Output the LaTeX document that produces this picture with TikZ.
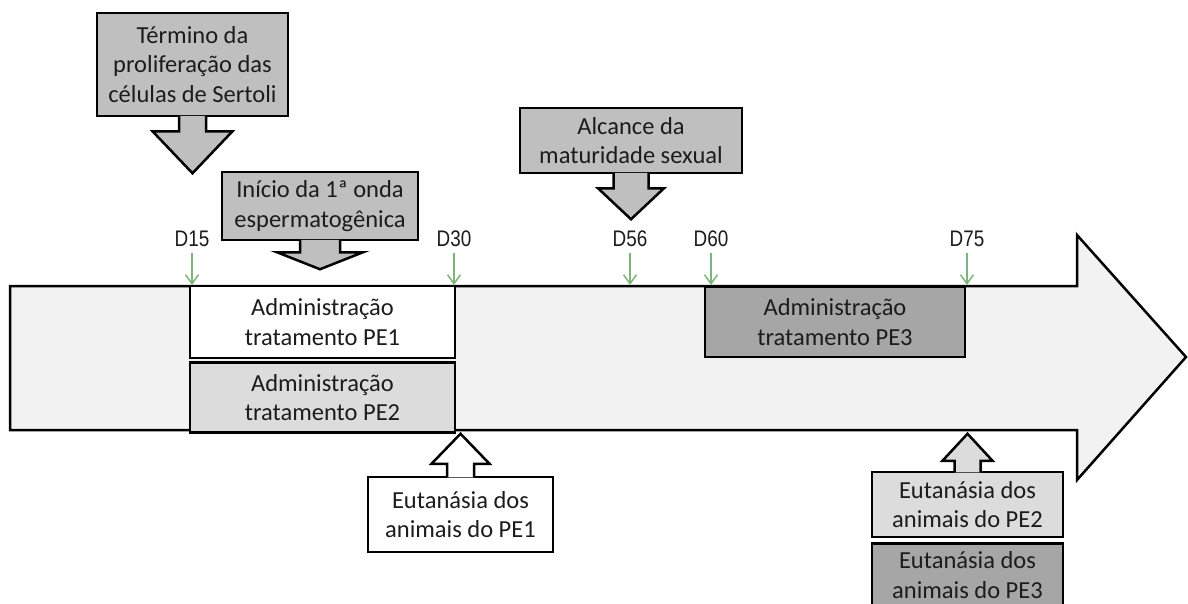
\documentclass[tikz,border=0pt]{standalone}
\usepackage{fontspec}
\setmainfont{Carlito}
\newfontfamily\tickfont[FakeStretch=0.84]{Liberation Sans}
\usetikzlibrary{positioning, arrows.meta}
\definecolor{barfill}{HTML}{F2F2F2}
\definecolor{calloutgray}{HTML}{BFBFBF}
\definecolor{lightbox}{HTML}{DCDCDC}
\definecolor{darkbox}{HTML}{A6A6A6}
\definecolor{tickgreen}{HTML}{7DB47D}
\definecolor{ink}{HTML}{1C1C1C}
\tikzset{
    x=1pt, y=-1pt, % pixel-like units, y grows downwards
    box/.style={draw, line width=2.5pt, align=center, inner sep=0pt, text=ink,
        font=\fontsize{24.5}{29.5}\selectfont}, % every text box
    callout/.style={box, fill=calloutgray},
    callarrow/.style={fill=calloutgray, draw, line width=2.5pt, line join=miter},
    tick label/.style={inner sep=2pt, text=ink, font=\tickfont\fontsize{22.5}{26}\selectfont},
    tick/.style={draw=tickgreen, line width=1.5pt, shorten <=4pt,
        -{Straight Barb[length=9pt, width=13pt]}},
}
\begin{document}
\begin{tikzpicture}
    \useasboundingbox (0,0) rectangle (1188,603);
    % the time line
    \filldraw[fill=barfill, draw=black, line width=2.5pt]
        (10,286) -- (1077,286) -- (1077,235) -- (1186,357) -- (1077,480) -- (1077,430) -- (10,430) -- cycle;
    % treatment periods
    \node[box, fill=white, minimum width=265, minimum height=72] (pe1) at (322.5,322) {Administração\\tratamento PE1};
    \node[box, fill=lightbox, minimum width=265, minimum height=70, below=2pt of pe1] (pe2) {Administração\\tratamento PE2};
    \node[box, fill=darkbox, minimum width=260, minimum height=70] (pe3) at (835,322) {Administração\\tratamento PE3};
    % days
    \coordinate (t15) at (192,285);
    \coordinate (t30) at (454,285);
    \coordinate (t56) at (630,285);
    \coordinate (t60) at (711,285);
    \coordinate (t75) at (967,285);
    \node[tick label, above=36pt of t15] (d15) {D15};
    \node[tick label, above=36pt of t30] (d30) {D30};
    \node[tick label, above=36pt of t56] (d56) {D56};
    \node[tick label, above=36pt of t60] (d60) {D60};
    \node[tick label, above=36pt of t75] (d75) {D75};
    \draw[tick] (d15) -- (t15);
    \draw[tick] (d30) -- (t30);
    \draw[tick] (d56) -- (t56);
    \draw[tick] (d60) -- (t60);
    \draw[tick] (d75) -- (t75);
    % events above the line
    \node[callout, minimum width=191, minimum height=103] (sertoli) at (192.5,64.5) {Término da\\proliferação das\\células de Sertoli};
    \node[callout, minimum width=196, minimum height=68] (onda) at (320,206) {Início da 1ª onda\\espermatogênica};
    \node[callout, minimum width=222, minimum height=65] (maturidade) at (631,140.5) {Alcance da\\maturidade sexual};
    \filldraw[callarrow] ([xshift=-13.5pt, yshift=1.5pt]sertoli.south) -- ++(0,15.5) -- ++(-26.5,0)
        -- ++(40,42) -- ++(40,-42) -- ++(-26.5,0) -- ++(0,-15.5);
    \filldraw[callarrow] ([xshift=-20pt, yshift=1.5pt]onda.south) -- ++(0,12.5) -- ++(-23,0)
        -- ++(43,17) -- ++(43,-17) -- ++(-23,0) -- ++(0,-12.5);
    \filldraw[callarrow] ([xshift=-17.5pt, yshift=1.5pt]maturidade.south) -- ++(0,15.5) -- ++(-15.5,0)
        -- ++(33,31) -- ++(33,-31) -- ++(-15.5,0) -- ++(0,-15.5);
    % events below the line
    \node[box, fill=white, minimum width=185, minimum height=75] (eut1) at (460.5,514.5) {Eutanásia dos\\animais do PE1};
    \node[box, fill=lightbox, minimum width=191, minimum height=65] (eut2) at (967.5,504.5) {Eutanásia dos\\animais do PE2};
    \node[box, fill=darkbox, minimum width=191, minimum height=63, below=4pt of eut2] (eut3) {Eutanásia dos\\animais do PE3};
    \filldraw[callarrow, fill=white] ([xshift=-13.5pt, yshift=-1.5pt]eut1.north) -- ++(0,-13.5) -- ++(-15.5,0)
        -- ++(29,-30) -- ++(29,30) -- ++(-15.5,0) -- ++(0,13.5);
    \filldraw[callarrow, fill=lightbox] ([xshift=-13pt, yshift=-1.5pt]eut2.north) -- ++(0,-11.5) -- ++(-12,0)
        -- ++(25,-27) -- ++(25,27) -- ++(-12,0) -- ++(0,11.5);
\end{tikzpicture}
\end{document}
